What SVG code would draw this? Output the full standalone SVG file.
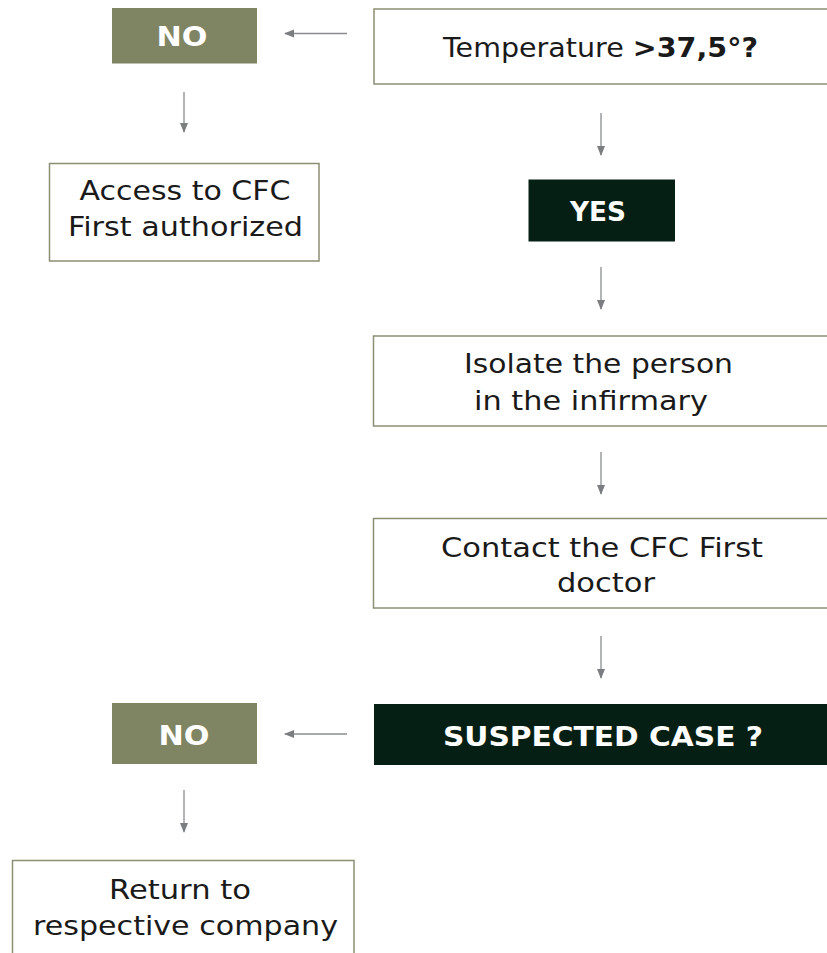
<svg xmlns="http://www.w3.org/2000/svg" width="827" height="953" viewBox="0 0 827 953">
<defs>
<marker id="ah" viewBox="0 0 10 10" refX="9" refY="5" markerWidth="10" markerHeight="10" markerUnits="userSpaceOnUse" orient="auto">
<path d="M0,1 L10,5 L0,9 z" fill="#7b7d80"/>
</marker>
<style>
.box{fill:#ffffff;stroke:#8d8f74;stroke-width:1.5}
.olive{fill:#7f8462}
.dark{fill:#061f14}
.t{font-family:"DejaVu Sans","Liberation Sans",sans-serif;font-size:27px;fill:#1a1a1a;text-anchor:middle}
.b{font-family:"DejaVu Sans","Liberation Sans",sans-serif;font-size:26px;font-weight:700;fill:#ffffff;text-anchor:middle}
.c{stroke:#8a8c8f;stroke-width:1.3;fill:none;marker-end:url(#ah)}
</style>
</defs>
<rect width="827" height="953" fill="#ffffff"/>
<g id="no1"><rect class="olive" x="112" y="8" width="145" height="55.5"/><text class="b" x="182" y="46" textLength="51" lengthAdjust="spacingAndGlyphs">NO</text></g>
<g id="temp"><rect class="box" x="374" y="9" width="470" height="75"/><text class="t" x="600.5" y="57" textLength="315" lengthAdjust="spacingAndGlyphs">Temperature <tspan font-weight="700">&gt;37,5°?</tspan></text></g>
<g id="access"><rect class="box" x="49.5" y="163.5" width="269.5" height="97.5"/><text class="t" x="185" y="200" textLength="211" lengthAdjust="spacingAndGlyphs">Access to CFC</text><text class="t" x="185.5" y="236" textLength="235" lengthAdjust="spacingAndGlyphs">First authorized</text></g>
<g id="yes"><rect class="dark" x="528.5" y="179.5" width="146.5" height="62"/><text class="b" x="598" y="221" font-size="27" textLength="56" lengthAdjust="spacingAndGlyphs">YES</text></g>
<g id="isolate"><rect class="box" x="373.5" y="336" width="470" height="90"/><text class="t" x="598.5" y="373" textLength="269" lengthAdjust="spacingAndGlyphs">Isolate the person</text><text class="t" x="591" y="410" textLength="234" lengthAdjust="spacingAndGlyphs">in the infirmary</text></g>
<g id="contact"><rect class="box" x="373.5" y="518.5" width="470" height="89.5"/><text class="t" x="602" y="556.5" textLength="322" lengthAdjust="spacingAndGlyphs">Contact the CFC First</text><text class="t" x="606" y="591.5" textLength="98" lengthAdjust="spacingAndGlyphs">doctor</text></g>
<g id="no2"><rect class="olive" x="112" y="703" width="145" height="61"/><text class="b" x="184" y="745" textLength="51" lengthAdjust="spacingAndGlyphs">NO</text></g>
<g id="suspected"><rect class="dark" x="374" y="704" width="470" height="61"/><text class="b" x="603" y="745.5" font-size="31" textLength="320" lengthAdjust="spacingAndGlyphs">SUSPECTED CASE ?</text></g>
<g id="return"><rect class="box" x="12.5" y="860.5" width="341.5" height="110"/><text class="t" x="180" y="899" textLength="142" lengthAdjust="spacingAndGlyphs">Return to</text><text class="t" x="185.5" y="935" textLength="305" lengthAdjust="spacingAndGlyphs">respective company</text></g>
<g id="connectors">
<line class="c" x1="347" y1="33.5" x2="285" y2="33.5"/>
<line class="c" x1="184" y1="92" x2="184" y2="132"/>
<line class="c" x1="601" y1="113" x2="601" y2="155"/>
<line class="c" x1="601" y1="267" x2="601" y2="309"/>
<line class="c" x1="601" y1="452" x2="601" y2="494"/>
<line class="c" x1="601" y1="636" x2="601" y2="678"/>
<line class="c" x1="347" y1="734" x2="285" y2="734"/>
<line class="c" x1="184" y1="790" x2="184" y2="832"/>
</g>
</svg>
